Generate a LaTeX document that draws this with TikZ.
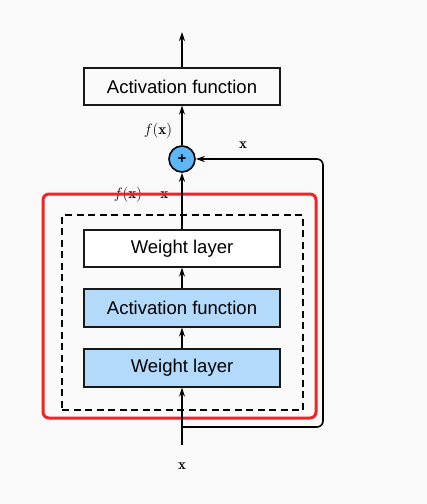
\RequirePackage{fix-cm}
\documentclass[tikz,border=0pt]{standalone}
\usepackage{fontspec}
\newfontfamily\arialf{Liberation Sans}
\usetikzlibrary{arrows.meta}
\definecolor{bg}{HTML}{FAFAFA}
\definecolor{lblue}{HTML}{B3D9FB}
\definecolor{pblue}{HTML}{5DB6F5}
\definecolor{rred}{HTML}{F52222}
\tikzset{
  layer/.style={draw=black!90, line width=1.3pt, minimum width=196pt, minimum height=37pt, inner sep=0pt, font=\arialf\fontsize{18.5}{21}\selectfont},
  bluelayer/.style={layer, fill=lblue},
  conn/.style={line width=1.6pt, -{Stealth[length=9pt,width=6pt]}},
  lbl/.style={font=\fontsize{15}{17}\selectfont, inner sep=0pt},
}
\begin{document}
\begin{tikzpicture}[x=1pt,y=-1pt]
\useasboundingbox (0,0) rectangle (427,504);
\fill[bg] (0,0) rectangle (427,504);
% label under red frame
\node[lbl] (fxmx) at (141,195) {$f(\mathbf{x})-\mathbf{x}$};
% dashed and red frames
\node[draw, dash pattern=on 7pt off 4.5pt, line width=1.3pt, minimum width=241pt, minimum height=195pt, inner sep=0pt] (dash) at (182.5,312.5) {};
\node[draw=rred, line width=3pt, rounded corners=6pt, minimum width=273pt, minimum height=224pt, inner sep=0pt] (red) at (179.5,306) {};
% layers
\node[layer] (top) at (182,86.5) {Activation function};
\node[layer, fill=white] (w2) at (182,248.5) {Weight layer};
\node[bluelayer, minimum height=38pt] (act) at (182,308) {Activation function};
\node[bluelayer, minimum height=38pt] (w1) at (182,368) {Weight layer};
\node[circle, draw, fill=pblue, line width=1.6pt, minimum size=26pt, inner sep=0pt, font=\arialf\bfseries\fontsize{15}{16}\selectfont] (plus) at (182,159) {+};
\coordinate (in) at (182,445);
\coordinate (split) at (182,427);
\coordinate (out) at (182,32);
\coordinate (sk) at (309,159);
% connectors
\draw[line width=1.6pt, rounded corners=6pt] (split) -- (323,427) -- (323,159) -- (sk);
\draw[conn] (sk) -- (plus.east);
\draw[conn] (in) -- (w1.south);
\draw[conn] (w1.north) -- (act.south);
\draw[conn] (act.north) -- (w2.south);
\draw[conn] (w2.north) -- (plus.south);
\draw[conn] (plus.north) -- (top.south);
\draw[conn] (top.north) -- (out);
% labels
\node[lbl] (fx) at (158,131) {$f(\mathbf{x})$};
\node[lbl] (xr) at (243,145) {$\mathbf{x}$};
\node[lbl] (xb) at (182,466) {$\mathbf{x}$};
\end{tikzpicture}
\end{document}
